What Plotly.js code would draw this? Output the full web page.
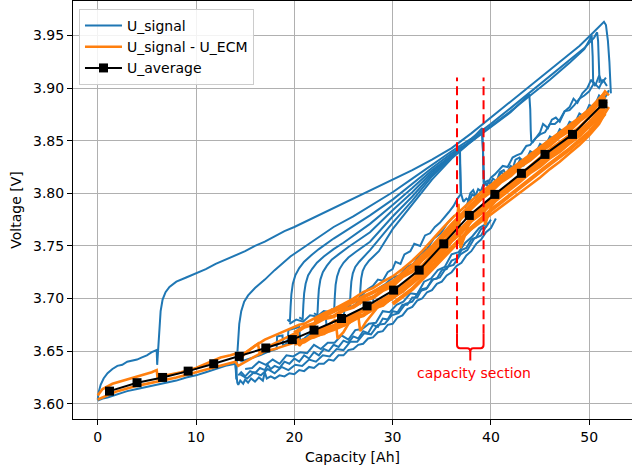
<!DOCTYPE html>
<html><head><meta charset="utf-8">
<script src="https://cdn.plot.ly/plotly-3.0.1.min.js"></script>
<style>html,body{margin:0;padding:0;background:#fff}</style>
</head><body><div id="chart" style="width:632px;height:469px"></div>
<script>
// ---- U_average (black squares) ----
const avgX = [1.2, 4.0, 6.6, 9.2, 11.8, 14.4, 17.1, 19.8, 22.0, 24.8, 27.4, 30.1, 32.7, 35.2, 37.8, 40.4, 43.1, 45.5, 48.3, 51.4];
const avgY = [3.612, 3.620, 3.625, 3.631, 3.638, 3.645, 3.653, 3.661, 3.670, 3.681, 3.693, 3.708, 3.727, 3.752, 3.779, 3.799, 3.819, 3.837, 3.856, 3.885];

// ---- U_signal (blue) curves ----
const sigAX = [0,0.1,0.3,0.6,1,1.5,2,2.5,3,3.5,4,4.5,5,5.5,6.0,6.05,6.15,6.25,6.4,6.6,6.9,7.3,8,9,10,11,12,13,14,15,16,17,18,19,20,22,24,26,28,30,32,34,36,38,40,42,44,46,48,49,50,51,51.5,51.7,51.9,52.05,52.15,52.2];
const sigAY = [3.604,3.611,3.618,3.624,3.629,3.633,3.636,3.637,3.640,3.641,3.642,3.644,3.646,3.649,3.651,3.637,3.652,3.672,3.688,3.699,3.706,3.711,3.716,3.720,3.724,3.728,3.733,3.737,3.741,3.745,3.750,3.754,3.759,3.764,3.768,3.777,3.786,3.795,3.804,3.813,3.822,3.832,3.843,3.857,3.872,3.887,3.902,3.917,3.932,3.940,3.949,3.958,3.963,3.960,3.945,3.925,3.905,3.895];
const sigBX = [14.0,14.1,14.15,14.25,14.4,14.6,14.9,15.3,16,17,18,19.6,21,22.5,24,26,27.7,30,32,34,36,38,40,42,44,46,48,49.5,50.5,50.8,50.9,51.0,51.05];
const sigBY = [3.640,3.623,3.640,3.660,3.676,3.688,3.697,3.703,3.710,3.718,3.727,3.740,3.749,3.759,3.768,3.778,3.788,3.801,3.814,3.827,3.840,3.852,3.866,3.881,3.896,3.911,3.926,3.938,3.948,3.953,3.945,3.925,3.905];
const sigCX = [19.3,19.55,19.62,19.7,19.85,20.1,20.5,21.0,21.7,22.5,24,25.5,27.7,30,32,34,36,38,40,42,44,46,48,49.5,50.1,50.25,50.35,50.4];
const sigCY = [3.680,3.678,3.692,3.704,3.714,3.722,3.729,3.735,3.741,3.747,3.757,3.766,3.779,3.794,3.809,3.824,3.838,3.850,3.864,3.878,3.893,3.908,3.924,3.937,3.947,3.950,3.930,3.905];
const sigDX = [20.5,20.85,20.92,21.0,21.15,21.4,21.8,22.3,23,24,25,27.7,30,32,34,36,38,40,42,43.9,44.0,44.05,44.1,44.2];
const sigDY = [3.682,3.680,3.694,3.705,3.714,3.722,3.728,3.734,3.740,3.747,3.753,3.771,3.789,3.805,3.822,3.836,3.849,3.863,3.877,3.894,3.880,3.860,3.850,3.848];
const sigEX = [22.0,22.35,22.42,22.5,22.65,22.9,23.3,23.8,24.5,25.5,27.7,30,32,34,36,37.5,39.1,39.2,39.25,39.3];
const sigEY = [3.686,3.684,3.698,3.709,3.718,3.725,3.731,3.737,3.742,3.749,3.763,3.784,3.801,3.820,3.836,3.846,3.862,3.845,3.825,3.812];
const sigFX = [23.7,24.05,24.12,24.2,24.35,24.6,25.0,25.5,26.2,27.7,30,32,34,36,36.8,36.85,36.9,36.95];
const sigFY = [3.690,3.688,3.702,3.713,3.721,3.728,3.734,3.739,3.744,3.754,3.778,3.797,3.818,3.835,3.845,3.825,3.810,3.800];
const sigGX = [25.3,25.65,25.72,25.8,25.95,26.2,26.6,27.1,27.7,30,32,34,36,36.85,36.88,36.93];
const sigGY = [3.694,3.692,3.706,3.716,3.724,3.730,3.735,3.740,3.746,3.772,3.793,3.816,3.834,3.843,3.820,3.800];
const sigHX = [26.3,26.65,26.72,26.8,26.95,27.2,27.6,28.1,28.6,30,32,34,36,38,39.1,39.2,39.25];
const sigHY = [3.697,3.695,3.709,3.719,3.726,3.731,3.736,3.741,3.745,3.766,3.789,3.813,3.833,3.849,3.858,3.840,3.810];
const sigL0X = [0,0.5,1,2,3,4,5,6,7,8,9,10,11,12,13,14];
const sigL0Y = [3.603,3.605,3.606,3.609,3.612,3.614,3.616,3.618,3.620,3.622,3.625,3.627,3.630,3.633,3.636,3.638];
const sigL1X = [14.0,14.2,14.3,14.5,14.8,15.0,15.3,15.6,16.0,16.4,16.8,17.0,17.2,17.6,18.0,18.5,19.0,19.5,20.0,20.5,21.0,21.5,22.0,22.5,23.0,23.5,24.0,24.5,25.0,25.5,26.0,26.5,27.0,27.5,28.0,28.5,29.0,29.5,30.0,30.5,31.0,31.5,32.0,32.5,33.0,33.5,34.0,34.5,35.0,35.5,36.0,36.5,37.0,37.5,38.0,38.5,39.0,39.5,40.0,40.5];
const sigL1Y = [3.638,3.620,3.618,3.622,3.619,3.623,3.620,3.624,3.621,3.625,3.622,3.630,3.624,3.626,3.624,3.627,3.626,3.629,3.628,3.632,3.631,3.635,3.634,3.638,3.638,3.642,3.641,3.646,3.646,3.651,3.652,3.656,3.657,3.662,3.663,3.668,3.669,3.675,3.676,3.682,3.684,3.690,3.692,3.698,3.700,3.706,3.708,3.714,3.716,3.722,3.725,3.731,3.734,3.741,3.745,3.752,3.756,3.763,3.767,3.776];
const sigL2X = [14.3,14.6,15,15.5,16,16.5,17,17.3,17.6,18,18.5,19,19.5,20,20.5,21,21.5,22,22.5,23,23.5,24,24.5,25,25.5,26,26.5,27,27.5,28,28.5,29,29.5,30,30.5,31,31.5,32,32.5,33,33.5,34,34.5,35,35.5,36,36.5,37,37.5,38,38.5,39,39.5,40];
const sigL2Y = [3.627,3.630,3.626,3.631,3.629,3.634,3.632,3.637,3.633,3.636,3.634,3.640,3.638,3.643,3.640,3.646,3.643,3.649,3.646,3.652,3.650,3.656,3.654,3.660,3.658,3.664,3.662,3.669,3.667,3.675,3.673,3.681,3.680,3.688,3.687,3.694,3.694,3.701,3.701,3.709,3.710,3.718,3.719,3.727,3.728,3.736,3.738,3.746,3.748,3.756,3.758,3.766,3.768,3.775];
const sigL4X = [14.5,15.2,15.9,16.6,17.3,18,18.7,19.4,20.1,20.8,21.5,22.2,22.9,23.6,24.3,25,25.7,26.4,27.1,27.8,28.5,29.2,29.9,30.6,31.3,32,32.7,33.4,34.1,34.8,35.5,36.2,36.9,37.6,38.3,39,39.7];
const sigL4Y = [3.628,3.624,3.630,3.627,3.633,3.629,3.635,3.632,3.637,3.636,3.642,3.640,3.646,3.645,3.652,3.651,3.659,3.659,3.667,3.666,3.675,3.676,3.684,3.686,3.695,3.697,3.707,3.709,3.718,3.720,3.730,3.732,3.742,3.746,3.757,3.760,3.772];
const sigL5X = [15,15.7,16.4,17.1,17.8,18.5,19.2,19.9,20.6,21.3,22,22.7,23.4,24.1,24.8,25.5,26.2,26.9,27.6,28.3,29,29.7,30.4,31.1,31.8,32.5,33.2,33.9,34.6,35.3,36,36.7,37.4,38.1,38.8,39.5];
const sigL5Y = [3.633,3.634,3.640,3.637,3.642,3.638,3.646,3.645,3.649,3.648,3.656,3.652,3.658,3.658,3.665,3.661,3.670,3.671,3.676,3.677,3.688,3.687,3.694,3.697,3.705,3.704,3.716,3.719,3.727,3.730,3.742,3.744,3.753,3.759,3.767,3.771];
const sigL3X = [14.5,15.5,16.5,17.5,18.2,18.25,18.8,18.85,19.3,19.4,20.0,20.5,20.6,21.0,21.5,22.0,22.1,22.6,23.2,23.3,24.0,24.5,25,25.1,25.8,26.5,27.5,28,28.1,29,30];
const sigL3Y = [3.640,3.643,3.646,3.650,3.652,3.664,3.665,3.655,3.658,3.670,3.672,3.673,3.660,3.662,3.666,3.668,3.678,3.680,3.683,3.670,3.672,3.676,3.680,3.690,3.692,3.696,3.700,3.702,3.690,3.694,3.700];
const sigU1X = [26.5,27,27.5,28,28.5,29,29.5,30,30.3,30.8,31.2,31.8,32.2,32.8,33.3,33.8,34.3,34.8,35.2,35.7,36.2,36.6,37.0];
const sigU1Y = [3.700,3.705,3.709,3.712,3.718,3.717,3.725,3.728,3.735,3.733,3.742,3.745,3.752,3.750,3.760,3.762,3.768,3.772,3.776,3.782,3.788,3.795,3.800];
const sigU2X = [19.5,20.2,20.9,21.6,22.3,23,23.7,24.4,25.1,25.8,26.5,27.2,27.9,28.6,29.3,30,30.7,31.4,32.1,32.8,33.5,34.2,34.9,35.6,36.3];
const sigU2Y = [3.676,3.680,3.678,3.684,3.683,3.688,3.687,3.692,3.692,3.697,3.698,3.703,3.705,3.710,3.714,3.720,3.722,3.730,3.733,3.742,3.747,3.757,3.762,3.772,3.779];
const sigP1X = [36.95,37.2,37.5,37.8,38.1,38.4,38.7,39.0,39.4,39.8,40.2,40.6,41.0,41.5,42.0,42.5,43.0,43.5,44.0,44.5,45.0,45.5,46.0,46.5,47.0,47.5,48.0,48.5,49.0,49.5,50.0,50.5,51.0,51.5,52.0];
const sigP1Y = [3.800,3.792,3.795,3.793,3.799,3.797,3.804,3.802,3.809,3.806,3.814,3.811,3.820,3.817,3.826,3.823,3.833,3.830,3.840,3.837,3.847,3.844,3.854,3.851,3.861,3.858,3.868,3.866,3.876,3.873,3.884,3.882,3.893,3.889,3.898];
const sigP2X = [39.3,39.6,40,40.4,40.8,41.2,41.7,42.2,42.6,43.1,43.6,44.0,44.5,45,45.5,46,46.5,47,47.5,48,48.5,49,49.5,50,50.5,51,51.4,51.8];
const sigP2Y = [3.812,3.808,3.815,3.818,3.822,3.826,3.825,3.834,3.836,3.838,3.845,3.846,3.852,3.856,3.858,3.866,3.866,3.870,3.878,3.879,3.884,3.890,3.893,3.897,3.905,3.900,3.908,3.902];
const sigP3X = [44.2,44.5,45,45.3,45.8,46.2,46.6,47,47.5,48,48.4,48.8,49.3,49.8,50.2,50.6,51,51.3,51.7];
const sigP3Y = [3.848,3.852,3.858,3.866,3.862,3.870,3.872,3.868,3.878,3.882,3.890,3.886,3.895,3.900,3.908,3.902,3.912,3.905,3.910];
const sigP4X = [37.3,37.6,37.9,38.2,38.5,38.9,39.3,39.7,40.1,40.5,40.9,41.3,41.7,42.1,42.5,42.9,43.3,43.7];
const sigP4Y = [3.786,3.790,3.800,3.803,3.796,3.800,3.810,3.812,3.804,3.809,3.820,3.822,3.814,3.820,3.832,3.834,3.826,3.832];

// ---- U_signal - U_ECM (orange) strands ----
const ecm1X = [0,0.5,1.5,3,4.5,5.5,6.0,6.1,7,8.5,10,11.5,12.5,13.5,14.2,14.4,15,16,17,18,19,20,20.5,21,22,23,24,25,26,27,28,29,30,31,32,33,34,35,36,37,38,39,40,41,42,43,44,45,46,47,48,49,50,51,51.6,52];
const ecm1Y = [3.608,3.614,3.619,3.623,3.627,3.630,3.632,3.624,3.627,3.630,3.634,3.640,3.644,3.646,3.648,3.641,3.648,3.655,3.661,3.665,3.669,3.673,3.675,3.676,3.681,3.686,3.690,3.695,3.700,3.706,3.710,3.716,3.721,3.728,3.736,3.745,3.756,3.766,3.776,3.785,3.793,3.801,3.808,3.816,3.823,3.830,3.837,3.844,3.851,3.858,3.865,3.872,3.880,3.888,3.897,3.893];
const ecm2X = [0,1,2,4,6,8,10,12,14,14.3,15,16,17,18,19,20,21,22,23,24,25,26,27,28,29,30,31,32,33,34,35,36,37,38,39,40,41,42,43,44,45,46,47,48,49,50,51,51.6,52];
const ecm2Y = [3.604,3.608,3.612,3.617,3.621,3.625,3.630,3.635,3.640,3.636,3.640,3.645,3.650,3.652,3.655,3.658,3.661,3.663,3.667,3.670,3.674,3.679,3.684,3.689,3.695,3.700,3.707,3.714,3.722,3.731,3.740,3.749,3.758,3.766,3.773,3.780,3.787,3.794,3.801,3.808,3.815,3.823,3.830,3.838,3.846,3.855,3.866,3.876,3.882];
const ecm3X = [14.5,15.5,16.3,16.5,16.8,17.5,19,20.3,20.5,20.8,22,23.5,24.2,24.4,25,25.5,26.5,26.7,27.3,28.5,29.5,31,32.5,34,35.5,36.5,36.7,36.9,38,39.3,39.4,40,41.5,43,44.5,46,47.5,49,50.5,51.8];
const ecm3Y = [3.645,3.652,3.657,3.647,3.650,3.655,3.662,3.668,3.655,3.658,3.667,3.675,3.680,3.662,3.668,3.676,3.684,3.669,3.678,3.692,3.700,3.712,3.726,3.742,3.758,3.768,3.790,3.748,3.777,3.790,3.770,3.787,3.805,3.818,3.830,3.842,3.852,3.863,3.877,3.887];
const ecm4X = [20,21,22,23,24,25,26,27,28,29,30,31,32,33,34,35,36,37,38,39,40,41,42,43,44,45,46,47,48,49,50,51,51.6];
const ecm4Y = [3.667,3.673,3.676,3.681,3.683,3.689,3.692,3.698,3.701,3.708,3.712,3.721,3.726,3.737,3.745,3.757,3.766,3.777,3.786,3.795,3.802,3.811,3.817,3.826,3.832,3.840,3.846,3.854,3.860,3.869,3.876,3.886,3.892];
const ecm5X = [20,21,22,23,24,25,26,27,28,29,30,31,32,33,34,35,36,37,38,39,40,41,42,43,44,45,46,47,48,49,50,51,51.6];
const ecm5Y = [3.657,3.659,3.665,3.667,3.673,3.675,3.682,3.684,3.691,3.694,3.702,3.707,3.716,3.723,3.735,3.743,3.755,3.763,3.774,3.781,3.790,3.797,3.805,3.812,3.820,3.826,3.834,3.840,3.848,3.855,3.864,3.873,3.881];
const ecm6X = [30,32,34,36,38,40,42,44,46,48,50,51.6];
const ecm6Y = [3.695,3.709,3.728,3.748,3.767,3.784,3.799,3.814,3.828,3.842,3.858,3.876];
const ecm7X = [22,24,26,28,30,32,34,36,38,40,42,44,46,48,50,51.6];
const ecm7Y = [3.679,3.688,3.696,3.706,3.716,3.731,3.749,3.770,3.789,3.805,3.821,3.835,3.850,3.863,3.879,3.895];
const ecm8X = [22,24,26,28,30,32,34,36,38,40,42,44,46,48,50,51.6];
const ecm8Y = [3.667,3.674,3.684,3.693,3.704,3.717,3.737,3.757,3.776,3.793,3.808,3.823,3.837,3.851,3.867,3.884];

// ---- annotation: capacity section ----
const sectionBounds = [36.55, 39.25];
const sectionTopV = 3.910, sectionBottomV = 3.667;

function joinCurves(list){
  const x=[], y=[];
  list.forEach(function(c, i){
    if(i){ x.push(null); y.push(null); }
    for(let k=0;k<c[0].length;k++){ x.push(c[0][k]); y.push(c[1][k]); }
  });
  return {x:x, y:y};
}
const blue = joinCurves([[sigL0X,sigL0Y],[sigL1X,sigL1Y],[sigL2X,sigL2Y],[sigL4X,sigL4Y],[sigL5X,sigL5Y],[sigL3X,sigL3Y],[sigU1X,sigU1Y],[sigU2X,sigU2Y],[sigP1X,sigP1Y],[sigP2X,sigP2Y],[sigP3X,sigP3Y],[sigP4X,sigP4Y],[sigHX,sigHY],[sigGX,sigGY],[sigFX,sigFY],[sigEX,sigEY],[sigDX,sigDY],[sigCX,sigCY],[sigBX,sigBY],[sigAX,sigAY]]);
const orangeThin = joinCurves([[ecm1X,ecm1Y],[ecm2X,ecm2Y],[ecm3X,ecm3Y]]);
const orangeBand = joinCurves([[ecm4X,ecm4Y],[ecm5X,ecm5Y],[ecm6X,ecm6Y],[ecm7X,ecm7Y],[ecm8X,ecm8Y]]);

const FONT = 'DejaVu Sans, sans-serif';
const traces = [
  {x:blue.x, y:blue.y, type:'scatter', mode:'lines', name:'U_signal', line:{color:'#1f77b4', width:2}},
  {x:orangeThin.x, y:orangeThin.y, type:'scatter', mode:'lines', name:'U_signal - U_ECM', line:{color:'#ff7f0e', width:2.6}},
  {x:orangeBand.x, y:orangeBand.y, type:'scatter', mode:'lines', name:'U_signal - U_ECM', showlegend:false, line:{color:'#ff7f0e', width:4}},
  {x:avgX, y:avgY, type:'scatter', mode:'lines+markers', name:'U_average', line:{color:'#000000', width:2}, marker:{symbol:'square', size:9, color:'#000000'}}
];

const c = '#ff0000';
const x0 = sectionBounds[0], x1 = sectionBounds[1], xm = (x0+x1)/2;
const yb = 3.6528, yt = 3.641;
const bracePath = 'M '+x0+','+sectionBottomV+' L '+x0+','+(yb+0.003)+' Q '+x0+','+yb+' '+(x0+0.3)+','+yb+
  ' L '+(xm-0.3)+','+yb+' Q '+xm+','+yb+' '+xm+','+(yb-0.004)+' L '+xm+','+yt+
  ' M '+xm+','+(yb-0.004)+' Q '+xm+','+yb+' '+(xm+0.3)+','+yb+' L '+(x1-0.3)+','+yb+' Q '+x1+','+yb+' '+x1+','+(yb+0.003)+' L '+x1+','+sectionBottomV;

const axisCommon = {
  showgrid:true, gridcolor:'#b0b0b0', gridwidth:1, zeroline:false,
  showline:true, linecolor:'#000000', linewidth:1, mirror:true,
  ticks:'outside', ticklen:5, tickwidth:1, tickcolor:'#000000',
  tickfont:{family:FONT, size:14, color:'#000000'}
};
const layout = {
  width:632, height:469,
  margin:{l:73, r:0, t:1, b:50},
  paper_bgcolor:'#ffffff', plot_bgcolor:'#ffffff',
  font:{family:FONT, size:14, color:'#000000'},
  xaxis: Object.assign({}, axisCommon, {range:[-2.513, 54.35], tickvals:[0,10,20,30,40,50],
    title:{text:'Capacity [Ah]', font:{family:FONT, size:14, color:'#000000'}, standoff:8}}),
  yaxis: Object.assign({}, axisCommon, {range:[3.5855, 3.9828], tickvals:[3.60,3.65,3.70,3.75,3.80,3.85,3.90,3.95], tickformat:'.2f',
    title:{text:'Voltage [V]', font:{family:FONT, size:14, color:'#000000'}, standoff:8}}),
  showlegend:true,
  legend:{x:0.0107, y:0.981, xanchor:'left', yanchor:'top', bgcolor:'rgba(255,255,255,0.85)', bordercolor:'#cccccc', borderwidth:1,
    font:{family:FONT, size:14, color:'#000000'}, tracegroupgap:0, itemwidth:37},
  shapes:[
    {type:'line', xref:'x', yref:'y', x0:x0, x1:x0, y0:sectionBottomV, y1:sectionTopV, line:{color:c, width:2, dash:'9px,5px'}},
    {type:'line', xref:'x', yref:'y', x0:x1, x1:x1, y0:sectionBottomV, y1:sectionTopV, line:{color:c, width:2, dash:'9px,5px'}},
    {type:'path', xref:'x', yref:'y', path:bracePath, line:{color:c, width:2}}
  ],
  annotations:[
    {x:xm+0.35, y:3.6289, xref:'x', yref:'y', text:'capacity section', showarrow:false, font:{family:FONT, size:14, color:c}}
  ]
};
Plotly.newPlot('chart', traces, layout, {displayModeBar:false, staticPlot:true});
</script>
</body></html>
